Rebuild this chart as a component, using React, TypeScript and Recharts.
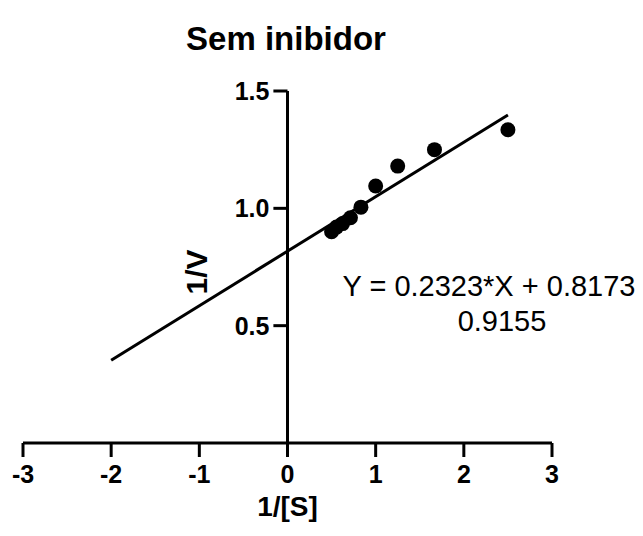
import {
  ComposedChart,
  Line,
  ReferenceLine,
  Scatter,
  XAxis,
  YAxis,
} from "recharts";

const invS = [0.5, 0.556, 0.625, 0.714, 0.833, 1.0, 1.25, 1.667, 2.5];
const invV = [0.9, 0.92, 0.935, 0.96, 1.005, 1.095, 1.18, 1.25, 1.335];

// regression line end points, as drawn
const fitX = [-2, 2.5];
const fitY = [0.353, 1.398];

const xTicks = [-3, -2, -1, 0, 1, 2, 3];
const yTicks = [0.5, 1.0, 1.5];

const points = invS.map((x, i) => ({ x, y: invV[i] }));
const fitLine = fitX.map((x, i) => ({ x, y: fitY[i] }));

const font = "'Liberation Sans', Arial, sans-serif";
const tickLen = 0.16;

export default function App() {
  return (
    <div style={{ position: "relative", width: 627, height: 520, fontFamily: font }}>
      <ComposedChart
        width={627}
        height={520}
        margin={{ top: 83, right: 83, left: 15, bottom: 12 }}
      >
        <XAxis
          dataKey="x"
          type="number"
          domain={[-3, 3]}
          ticks={xTicks}
          interval={0}
          height={73}
          axisLine={{ stroke: "#000", strokeWidth: 3 }}
          tickLine={{ stroke: "#000", strokeWidth: 3 }}
          tickSize={14}
          tickMargin={8}
          tick={{ fill: "#000", fontSize: 25, fontWeight: 700, fontFamily: font }}
          label={{
            value: "1/[S]",
            position: "insideBottom",
            offset: 0,
            fill: "#000",
            fontSize: 28,
            fontWeight: 700,
            fontFamily: font,
          }}
        />
        <YAxis hide type="number" domain={[0, 1.5]} />
        <ReferenceLine
          segment={[
            { x: 0, y: 0 },
            { x: 0, y: 1.5 },
          ]}
          stroke="#000"
          strokeWidth={3}
        />
        {yTicks.map((t) => (
          <ReferenceLine
            key={t}
            segment={[
              { x: -tickLen, y: t },
              { x: 0, y: t },
            ]}
            stroke="#000"
            strokeWidth={3}
            label={{
              value: t.toFixed(1),
              position: "left",
              offset: 4,
              fill: "#000",
              fontSize: 25,
              fontWeight: 700,
              fontFamily: font,
            }}
          />
        ))}
        <Line
          data={fitLine}
          dataKey="y"
          stroke="#000"
          strokeWidth={3}
          dot={false}
          isAnimationActive={false}
        />
        <Scatter
          data={points}
          dataKey="y"
          fill="#000"
          shape={(p: any) => <circle cx={p.cx} cy={p.cy} r={7.5} fill="#000" />}
          isAnimationActive={false}
        />
      </ComposedChart>
      <div
        style={{
          position: "absolute",
          left: 0,
          width: 556,
          top: 12,
          textAlign: "center",
          fontSize: 33,
          fontWeight: 700,
          color: "#000",
        }}
      >
        Sem inibidor
      </div>
      <div
        style={{
          position: "absolute",
          left: 189 - 100,
          top: 264 - 17,
          width: 200,
          textAlign: "center",
          fontSize: 30,
          fontWeight: 700,
          transform: "rotate(-90deg)",
          lineHeight: "34px",
        }}
      >
        1/V
      </div>
      <div
        style={{
          position: "absolute",
          left: 481 - 200,
          top: 261,
          width: 400,
          textAlign: "center",
          fontSize: 29,
          lineHeight: "35px",
        }}
      >
        Y = 0.2323*X + 0.8173
        <br />
        <span style={{ position: "relative", left: 13 }}>0.9155</span>
      </div>
    </div>
  );
}
